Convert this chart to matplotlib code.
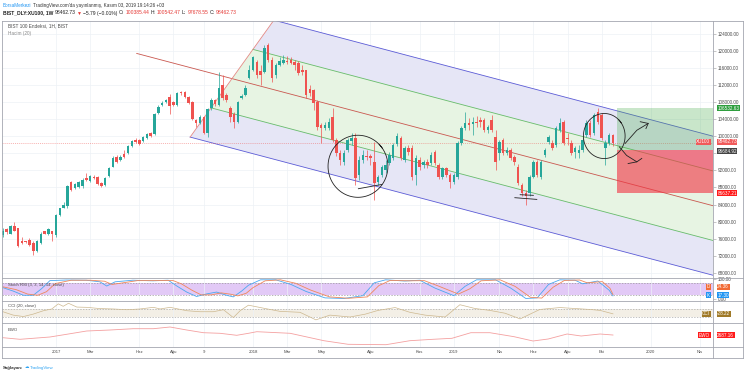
import numpy as np
import pandas as pd
import matplotlib
matplotlib.use("Agg")
from matplotlib import pyplot as plt
from matplotlib import transforms
from matplotlib.lines import Line2D
from matplotlib.patches import Polygon, Rectangle

plt.rcParams['font.family'] = ['Liberation Sans', 'DejaVu Sans']

# weekly BIST 100 candles in thousands of points, first bar 2016-09-26
opens = [76.8, 78.2, 77.2, 78.9, 78.4, 75.4, 75.4, 75.8, 75.1, 73.0,
         74.9, 77.7, 77.0, 77.7, 76.8, 81.5, 83.3, 83.6, 89.2, 87.8,
         88.0, 88.3, 90.1, 89.4, 90.4, 90.4, 89.0, 88.5, 90.6, 92.9,
         95.1, 94.4, 95.8, 96.0, 97.7, 99.1, 99.1, 98.8, 99.5, 100.7,
         100.5, 105.4, 107.3, 108.0, 109.2, 108.0, 107.3, 110.3, 110.3, 109.2,
         108.0, 103.8, 103.0, 104.5, 100.7,
         106.6, 108.5, 107.3, 112.0, 109.6, 106.6, 105.2, 103.3, 108.9, 109.6,
         113.6, 115.5, 117.4, 115.3, 115.0, 121.4, 117.8, 114.3, 116.7, 117.1,
         117.6, 117.8, 117.4, 117.1, 115.5, 115.5, 111.0, 110.8, 108.0, 102.6,
         101.9, 101.9, 104.5,
         99.1, 96.0, 93.9, 96.7, 98.8, 99.5, 90.9, 94.4, 95.3, 95.3,
         93.9, 89.2, 90.9, 92.0, 93.7, 94.8, 98.1, 99.5, 94.4, 97.2,
         97.2, 90.9, 94.4, 93.2, 93.9, 93.7, 96.2, 93.2, 90.4, 92.5,
         90.9, 89.2, 90.4, 98.4, 101.9, 103.0, 102.8, 103.3, 103.8, 103.8,
         101.4, 103.8, 99.8,
         96.0, 99.1, 96.0, 96.7, 95.1, 92.9, 88.5, 86.8, 86.6, 90.4,
         93.9, 90.4, 95.5, 98.6, 98.4, 97.9, 101.4, 103.3, 99.5, 98.4,
         96.2, 96.0, 96.7, 100.2, 103.0, 100.7, 105.6, 104.9, 97.2, 98.4,
         100.385]
highs = [78.4, 78.4, 79.1, 79.8, 78.4, 76.3, 75.5, 76.1, 75.4, 75.6,
         77.5, 77.9, 78.4, 77.9, 81.7, 83.3, 84.5, 88.5, 89.4, 89.0,
         89.4, 90.1, 91.3, 90.9, 90.9, 90.6, 89.2, 90.4, 92.9, 95.3,
         95.5, 95.5, 96.7, 97.9, 99.1, 99.5, 99.3, 100.0, 100.7, 100.9,
         105.4, 107.3, 108.2, 108.7, 109.9, 108.2, 110.3, 110.6, 110.6, 109.4,
         108.2, 104.0, 104.9, 104.7, 106.6,
         108.9, 108.7, 115.0, 114.3, 110.1, 107.0, 105.6, 108.2, 109.9, 112.0,
         116.7, 118.8, 117.8, 116.7, 121.4, 121.8, 118.5, 117.1, 118.5, 119.0,
         118.8, 118.5, 117.8, 117.6, 116.7, 115.5, 112.0, 111.0, 108.5, 103.0,
         103.3, 104.2, 106.6,
         99.5, 96.7, 96.7, 99.5, 100.7, 100.7, 95.3, 96.7, 96.7, 95.8,
         98.6, 90.9, 93.2, 94.4, 96.2, 98.4, 100.7, 100.0, 97.7, 97.9,
         97.9, 95.5, 95.1, 94.4, 94.6, 96.2, 96.7, 93.7, 92.9, 92.9,
         91.3, 91.3, 98.8, 102.3, 105.6, 104.2, 104.5, 104.7, 104.5, 104.2,
         102.6, 104.9, 101.4,
         99.1, 99.5, 97.4, 97.2, 95.5, 93.4, 89.0, 87.3, 90.9, 94.4,
         94.4, 94.4, 97.2, 100.2, 99.1, 102.3, 104.2, 103.8, 100.7, 99.1,
         97.7, 97.9, 99.5, 103.8, 103.8, 105.4, 106.6, 105.4, 99.1, 100.7,
         100.542]
lows = [76.3, 77.0, 77.0, 77.7, 74.0, 74.7, 75.1, 74.2, 72.1, 72.8,
        74.7, 77.0, 76.8, 75.5, 76.5, 81.2, 83.2, 83.3, 87.1, 87.6,
        87.8, 87.8, 89.4, 89.2, 89.9, 88.5, 88.0, 88.3, 90.4, 92.7,
        93.7, 94.1, 94.8, 95.8, 97.4, 98.4, 97.9, 98.6, 99.3, 99.8,
        100.2, 105.2, 107.0, 107.7, 105.2, 107.0, 107.0, 109.6, 108.9, 107.5,
        103.8, 102.1, 102.8, 100.5, 99.8,
        106.1, 107.0, 107.0, 108.5, 108.0, 103.3, 101.9, 103.0, 108.7, 109.4,
        113.4, 115.3, 113.6, 112.0, 114.8, 117.4, 112.7, 113.6, 116.5, 116.9,
        116.9, 116.9, 115.5, 114.3, 114.3, 108.9, 109.4, 106.1, 101.4, 98.4,
        101.4, 101.4, 98.6,
        95.3, 93.2, 93.2, 96.2, 97.9, 88.5, 89.7, 93.7, 94.4, 93.2,
        85.0, 88.5, 90.4, 91.5, 93.2, 94.4, 97.7, 94.4, 93.9, 95.5,
        89.7, 88.5, 92.0, 92.5, 92.5, 93.2, 93.2, 89.9, 89.9, 90.4,
        87.8, 88.7, 89.9, 97.9, 101.4, 101.4, 100.2, 102.1, 102.1, 100.9,
        100.7, 100.9, 92.0,
        94.4, 95.5, 95.5, 94.4, 93.2, 88.5, 85.9, 83.8, 86.1, 90.1,
        90.4, 89.9, 95.1, 98.1, 96.7, 97.4, 100.9, 97.9, 97.9, 95.5,
        94.8, 94.8, 96.2, 99.8, 99.8, 100.2, 102.8, 99.1, 93.2, 97.9,
        97.679]
closes = [77.9, 77.5, 78.9, 77.9, 74.2, 75.1, 75.3, 74.4, 73.2, 75.5,
          77.2, 77.2, 78.2, 77.2, 81.5, 83.1, 84.0, 88.3, 87.3, 88.7,
          89.2, 89.7, 89.7, 90.6, 90.3, 88.7, 88.3, 90.1, 92.5, 94.8,
          93.9, 95.1, 95.1, 97.7, 98.8, 98.6, 98.1, 99.8, 100.5, 100.0,
          105.2, 106.8, 107.7, 108.5, 107.0, 107.3, 110.1, 110.1, 109.2, 107.7,
          104.0, 103.0, 104.5, 100.7, 106.3,
          108.5, 107.5, 111.3, 108.9, 108.5, 104.5, 103.3, 108.0, 109.4, 111.3,
          115.5, 118.5, 114.3, 114.3, 120.7, 117.8, 113.6, 116.7, 117.6, 117.8,
          117.4, 117.1, 116.7, 114.8, 115.0, 109.6, 110.1, 107.7, 102.1, 101.9,
          102.6, 103.3, 99.1,
          96.0, 94.4, 96.0, 99.1, 99.5, 90.1, 94.4, 95.5, 95.2, 94.8,
          89.0, 90.4, 92.7, 93.2, 95.5, 97.9, 100.0, 94.8, 97.2, 96.2,
          90.4, 94.8, 92.7, 93.9, 93.2, 95.5, 93.7, 90.4, 92.5, 90.9,
          89.2, 90.9, 98.4, 101.9, 103.0, 102.6, 103.3, 103.0, 103.3, 101.4,
          102.1, 101.4, 93.9,
          98.6, 96.0, 96.7, 94.8, 93.9, 89.0, 86.6, 86.1, 90.4, 93.9,
          90.9, 93.9, 96.7, 99.8, 97.2, 101.9, 103.0, 98.4, 99.3, 96.0,
          97.2, 96.7, 99.1, 103.0, 100.2, 104.9, 103.3, 99.5, 98.4, 100.2,
          98.463]

first_week = "2016-09-26"
last_price = 98462.73

tick_dates = ["2017-01-02", "2017-03-06", "2017-06-05", "2017-08-07", "2017-10-02",
              "2018-01-01", "2018-03-05", "2018-05-07", "2018-08-06", "2018-11-05",
              "2019-01-07", "2019-04-01", "2019-06-03", "2019-08-05", "2019-10-07",
              "2020-01-06", "2020-04-06"]
tick_labels = ["2017", "Mar", "Haz", "Ağu", "9", "2018", "Mar", "May", "Ağu", "Kas",
               "2019", "Nis", "Haz", "Ağu", "Eki", "2020", "Nis"]
price_ticks = list(range(68000, 124001, 4000))
hidden_ticks = [96000]  # covered by the price tags in the original

# pitchfork anchors (week number, price)
fork_a = (35.3, 119400)
fork_b = (49.4, 99800)
fork_c = (71.5, 127200)

# long position tool
pos_start = 162
pos_target = 106532.63
pos_entry = 96684.92
pos_stop = 86637.21

# hand drawn marks (week number, price)
loop1 = (93.7, 92960, 7.9, 7270)
loop2 = (158.7, 100050, 5.5, 5280)
strokes = [
    [(164.2, 98300), (167.3, 101400), (170.3, 103000)],
    [(168.2, 103400), (170.3, 103000), (169.7, 101800)],
    [(162.7, 97500), (164.6, 95500), (167.3, 94000)],
    [(165.0, 93600), (167.3, 94000), (168.6, 94800)],
    [(135.1, 85600), (140.9, 85200)],
    [(136.5, 86300), (140.0, 86150)],
    [(93.8, 87700), (100.0, 88700)],
]

# Stoch RSI (3, 3, 14, 14)
stoch_k_week = [0, 2.7, 5.4, 8, 10.2, 12.4, 16.8, 22, 25.6, 27.4, 29.6, 34.3, 39.6, 43.6, 45.9,
                48.5, 51.1, 53.8, 56.4, 59, 60.8, 63, 64.8, 68, 72, 76, 80, 85, 90, 95, 98, 101,
                106, 110, 114, 119, 122, 125, 130, 134, 138, 141, 144, 147, 151, 153, 157, 160, 161]
stoch_k = [58, 41, 20, 20, 53, 93, 96, 95, 87, 66, 87, 95, 92, 95, 66,
           36, 14, 27, 36, 20, 12, 41, 70, 97, 97, 74, 39, 7, 4, 18, 82, 97,
           91, 95, 56, 18, 65, 97, 97, 56, 4, 7, 74, 97, 95, 77, 91, 45, 17.3]
stoch_d_week = [0, 3.5, 6.5, 9.2, 11.5, 13.8, 18, 23, 26.8, 28.8, 31, 35.5, 40.8, 44.8, 47.2,
                49.8, 52.3, 55, 57.6, 60.2, 62, 64.2, 66, 69.2, 73.2, 77.2, 81.2, 86.2, 91.2,
                96.2, 99.2, 102.2, 107.2, 111.2, 115.2, 120.2, 123.2, 126.2, 131.2, 135.2,
                139.2, 142.2, 145.2, 148.2, 152.2, 154.2, 158.2, 160.2, 161]
stoch_d = [62, 48, 26, 20, 38, 78, 95, 95, 90, 74, 80, 93, 93, 94, 76,
           46, 22, 22, 32, 25, 17, 30, 58, 92, 97, 80, 46, 12, 5,
           12, 68, 94, 92, 93, 64, 26, 52, 92, 97, 64,
           10, 6, 60, 94, 96, 82, 88, 55, 24.36]

# CCI (20)
cci_week = [0, 2.7, 5.4, 8, 10.7, 12.9, 14.6, 15.9, 17.3, 19.5, 22.1, 25.6, 29.1, 32.7, 36.2,
            39.7, 41.5, 44.1, 48.5, 52, 55.5, 58.2, 60.8, 62.6, 64.8, 69.2, 73.1, 78.4, 82.6,
            86.3, 91.6, 95.6, 99, 103.5, 107.4, 111.4, 116.7, 120.6, 124.6, 128.5, 132.5,
            136.5, 141.7, 147, 151, 154.9, 157.6, 161]
cci = [27, -62, -100, -35, 54, 100, 235, 170, 250, 150, 143, 110, 100, 80, 100,
       143, 100, 143, 54, 27, 27, 80, -127, 54, 200, 112, 37, 12, -187,
       -62, -112, -37, 62, 137, 12, -62, -112, 212, 112, 62, -12,
       -162, 87, 137, 112, 87, 62, -28.22]

# Elliott wave oscillator
ewo_week = [0, 4.5, 12.4, 16.8, 22.1, 28.3, 34.4, 39.7, 44.1, 48.5, 52.9, 57.3, 61.7, 64.8,
            67, 75.8, 84.7, 91.1, 101.1, 107.4, 113.5, 118.5, 123.5, 128.5, 134.9, 139.9,
            143.9, 148.9, 152.6, 157.6, 161]
ewo = [270, -1170, 900, 3330, 6300, 7200, 8370, 8370, 9900, 7200, 4770, 4230, 2430, 4230,
       5670, 4230, -2430, -5670, -6030, -2430, -1170, -270, 4770, 4770, 1170, -2700,
       -900, 3600, 1800, 3600, 2687.16]

UP, DOWN = "#26a69a", "#ef5350"
LAV, LGREEN = "#e6e6f6", "#e7f4e3"
FORK_BLUE, FORK_GREEN, FORK_MED, FORK_HANDLE = "#5b5bd6", "#66bb6a", "#c9574f", "#e58a85"
GRID = "#edf1f6"
TXT = "#4a4a4a"

W, H = 745, 375


def px_box(x0, y0, x1, y1):
    return [x0 / W, 1 - y1 / H, (x1 - x0) / W, (y1 - y0) / H]


def fig_line(fig, x0, y0, x1, y1, color="#a3a6af", lw=0.6):
    fig.add_artist(Line2D([x0 / W, x1 / W], [1 - y0 / H, 1 - y1 / H],
                          transform=fig.transFigure, color=color, lw=lw))


def tag(axis, y, txt, fc, left=None, size=3.3):
    tr = transforms.blended_transform_factory(axis.transAxes, axis.transData)
    box = dict(boxstyle="square,pad=0.12", fc=fc, ec="none")
    axis.text(1.006, y, txt, transform=tr, fontsize=size, color="white", va="center",
              ha="left", bbox=box, clip_on=False, zorder=20)
    if left:
        axis.text(0.996, y, left, transform=tr, fontsize=size, color="white", va="center",
                  ha="right", bbox=box, clip_on=False, zorder=20)


def put_pieces(fig, x, y, pieces, size):
    r = fig.canvas.get_renderer()
    for s, color, weight in pieces:
        t = fig.text(x / W, 1 - y / H, s, color=color, fontsize=size, fontweight=weight,
                     va="center", ha="left")
        x += t.get_window_extent(renderer=r).width + 1.3


week0 = pd.Timestamp(first_week)
tick_pos = [(pd.Timestamp(d) - week0).days / 7 for d in tick_dates]
xl = (-0.25, 187.4)

fig = plt.figure(figsize=(W / 100, H / 100), dpi=100)
ax = fig.add_axes(px_box(2, 21, 713, 277.5))
ax_st = fig.add_axes(px_box(2, 277.5, 713, 301))
ax_cci = fig.add_axes(px_box(2, 301, 713, 323))
ax_ewo = fig.add_axes(px_box(2, 323, 713, 347))

for a_ in (ax, ax_st, ax_cci, ax_ewo):
    a_.set_xlim(*xl)
    for s in a_.spines.values():
        s.set_visible(False)
    a_.set_xticks(tick_pos)
    a_.tick_params(axis="x", length=0, labelbottom=False)
    a_.xaxis.grid(True, color=GRID, lw=0.5)
    a_.set_axisbelow(True)
    a_.yaxis.tick_right()
    a_.tick_params(axis="y", length=2, width=0.4, color="#999", labelsize=3.3,
                   labelcolor=TXT, pad=1.2)

# ---- main price panel
ax.set_ylim(66900, 127000)
ax.set_yticks(price_ticks)
ax.set_yticklabels(["" if v in hidden_ticks else f"{v:.2f}" for v in price_ticks])
ax.yaxis.grid(True, color=GRID, lw=0.5)

a = np.array(fork_a, float)
b = np.array(fork_b, float)
c = np.array(fork_c, float)
m = (b + c) / 2
slope = (m[1] - a[1]) / (m[0] - a[0])
x_end = 200.0


def extend(p):
    return np.array([x_end, p[1] + slope * (x_end - p[0])])


g1 = (c + m) / 2
g2 = (b + m) / 2
ax.add_patch(Polygon([c, extend(c), extend(g1), g1], fc=LAV, ec="none", zorder=1))
ax.add_patch(Polygon([g1, extend(g1), extend(g2), g2], fc=LGREEN, ec="none", zorder=1))
ax.add_patch(Polygon([g2, extend(g2), extend(b), b], fc=LAV, ec="none", zorder=1))
for p, col in [(c, FORK_BLUE), (g1, FORK_GREEN), (g2, FORK_GREEN), (b, FORK_BLUE), (a, FORK_MED)]:
    e = extend(p)
    ax.plot([p[0], e[0]], [p[1], e[1]], color=col, lw=0.6, zorder=2)
ax.plot([b[0], c[0]], [b[1], c[1]], color=FORK_HANDLE, lw=0.6, zorder=2)

ax.axhline(last_price, color="#ef5350", lw=0.5, ls=(0, (1.5, 1.5)), alpha=0.6, zorder=2)

o = np.array(opens) * 1000
h = np.array(highs) * 1000
lo = np.array(lows) * 1000
cl = np.array(closes) * 1000
xs = np.arange(len(o))
cols = np.where(cl >= o, UP, DOWN)
ax.vlines(xs, lo, h, colors=cols, lw=0.5, zorder=3)
ax.bar(xs, np.maximum(np.abs(cl - o), 200), bottom=np.minimum(o, cl), width=0.66,
       color=cols, lw=0, zorder=4)

ax.add_patch(Rectangle((pos_start, pos_entry), x_end - pos_start, pos_target - pos_entry,
                       fc="#4caf50", alpha=0.3, ec="none", zorder=5))
ax.add_patch(Rectangle((pos_start, pos_stop), x_end - pos_start, pos_entry - pos_stop,
                       fc="#f23645", alpha=0.62, ec="none", zorder=5))

for cx, cy, hw, hh in [loop1, loop2]:
    t = np.linspace(0.2, 2.25, 120) * np.pi
    ax.plot(cx + hw * np.cos(t), cy + hh * np.sin(t), color="#222", lw=0.6, zorder=8)
for s in strokes:
    s = np.array(s)
    ax.plot(s[:, 0], s[:, 1], color="#222", lw=0.6, zorder=8)

tag(ax, pos_target, "106532.63", "#2e9e3e")
tag(ax, last_price + 250, "98462.73", "#f05a5a", left="XU100")
tag(ax, pos_entry - 250, "96684.92", "#444444")
tag(ax, pos_stop, "86637.21", "#ff1a1a")

ax.text(6 / 711, 1 - 5 / 256, "BIST 100 Endeksi, 1H, BIST", transform=ax.transAxes,
        fontsize=3.4, color=TXT, va="center", ha="left")
ax.text(6 / 711, 1 - 12 / 256, "Hacim (20)", transform=ax.transAxes,
        fontsize=3.4, color="#8a8a8a", va="center", ha="left")

# ---- Stoch RSI
ax_st.set_ylim(-8.5, 108.5)
ax_st.set_yticks([0, 100])
ax_st.set_yticklabels(["0.00", "100.00"])
ax_st.axhspan(20, 80, color="#e2c9f6", lw=0, zorder=0)
for v in (20, 80):
    ax_st.axhline(v, color="#999", lw=0.5, ls=(0, (2, 2)))
ax_st.plot(stoch_k_week, stoch_k, color="#4aa8f0", lw=0.6)
ax_st.plot(stoch_d_week, stoch_d, color="#f0875a", lw=0.6)
ax_st.text(6 / 711, 0.7, "Stoch RSI (3, 3, 14, 14, close)", transform=ax_st.transAxes,
           fontsize=3.1, color=TXT, va="center")
tag(ax_st, 63, "24.36", "#f26b35", left="D")
tag(ax_st, 21, "17.30", "#2196f3", left="K")

# ---- CCI
ax_cci.set_ylim(-270, 310)
ax_cci.set_yticks([])
ax_cci.axhspan(-100, 100, color="#f3efe6", lw=0, zorder=0)
for v in (-100, 100):
    ax_cci.axhline(v, color="#aaa", lw=0.5, ls=(0, (2, 2)))
ax_cci.plot(cci_week, cci, color="#cdb88f", lw=0.5)
ax_cci.text(6 / 711, 0.75, "CCI (20, close)", transform=ax_cci.transAxes,
            fontsize=3.1, color=TXT, va="center")
tag(ax_cci, -28.22, "-28.22", "#a07a28", left="CCI")

# ---- EWO
ax_ewo.set_ylim(-8100, 13500)
ax_ewo.set_yticks([])
ax_ewo.plot(ewo_week, ewo, color="#f4a0a0", lw=0.6)
ax_ewo.text(6 / 711, 0.72, "EWO", transform=ax_ewo.transAxes,
            fontsize=3.1, color=TXT, va="center")
tag(ax_ewo, 2687.16, "2687.16", "#ff1a1a", left="EWO")

ax_ewo.tick_params(axis="x", labelbottom=True, labelsize=3.1, labelcolor=TXT, pad=2.5)
ax_ewo.set_xticklabels(tick_labels)

# ---- frame and separators
fig_line(fig, 2, 21, 743, 21)
fig_line(fig, 2, 358, 743, 358)
fig_line(fig, 2, 21, 2, 358)
fig_line(fig, 743, 21, 743, 358)
fig_line(fig, 713, 21, 713, 358)
for yy in (277.5, 301, 323, 347):
    fig_line(fig, 2, yy, 743, yy)

# ---- header and footer
put_pieces(fig, 3, 5.5, [("BorsaMerkezi", "#2196f3", "normal"),
                         ("TradingView.com'da yayınlanmış, Kasım 03, 2019 19:14:26 +03", "#333", "normal")], 3.3)
red = "#e53935"
put_pieces(fig, 3, 13, [("BIST_DLY:XU100, 1W", "#222", "bold"), ("98462.73", "#222", "normal"),
                        ("▼", red, "normal"), ("−5.79 (−0.01%)", "#222", "normal"),
                        ("O:", "#222", "normal"), ("100385.44", red, "normal"),
                        ("H:", "#222", "normal"), ("100542.47", red, "normal"),
                        ("L:", "#222", "normal"), ("97678.55", red, "normal"),
                        ("C:", "#222", "normal"), ("98462.73", red, "normal")], 3.6)
put_pieces(fig, 3, 367.5, [("Sağlayan:", "#333", "bold"), ("☁", "#2ea3f2", "normal"),
                           ("TradingView", "#2ea3f2", "normal")], 3.2)

fig.savefig("out.png", dpi=100)
